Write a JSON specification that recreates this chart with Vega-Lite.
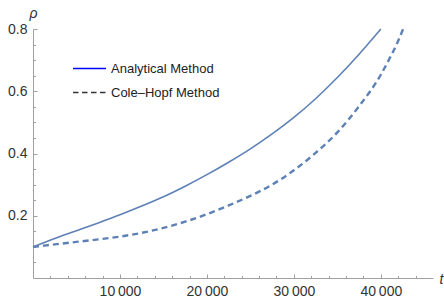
{
  "$schema": "https://vega.github.io/schema/vega-lite/v6.json",
  "autosize": "none",
  "width": 400,
  "height": 249,
  "padding": {"left": 33, "top": 29, "right": 11, "bottom": 20},
  "background": "white",
  "config": {"view": {"stroke": null}, "font": "Liberation Sans"},
  "data": {"values": [
    {"t": 0, "rho": 0.100, "method": "Analytical Method"},
    {"t": 2500, "rho": 0.127, "method": "Analytical Method"},
    {"t": 5000, "rho": 0.152, "method": "Analytical Method"},
    {"t": 7500, "rho": 0.177, "method": "Analytical Method"},
    {"t": 10000, "rho": 0.203, "method": "Analytical Method"},
    {"t": 12500, "rho": 0.231, "method": "Analytical Method"},
    {"t": 15000, "rho": 0.261, "method": "Analytical Method"},
    {"t": 17500, "rho": 0.295, "method": "Analytical Method"},
    {"t": 20000, "rho": 0.332, "method": "Analytical Method"},
    {"t": 22500, "rho": 0.372, "method": "Analytical Method"},
    {"t": 25000, "rho": 0.415, "method": "Analytical Method"},
    {"t": 27500, "rho": 0.463, "method": "Analytical Method"},
    {"t": 30000, "rho": 0.516, "method": "Analytical Method"},
    {"t": 32500, "rho": 0.576, "method": "Analytical Method"},
    {"t": 35000, "rho": 0.644, "method": "Analytical Method"},
    {"t": 37500, "rho": 0.719, "method": "Analytical Method"},
    {"t": 40000, "rho": 0.800, "method": "Analytical Method"},
    {"t": 0, "rho": 0.100, "method": "Cole–Hopf Method"},
    {"t": 2500, "rho": 0.108, "method": "Cole–Hopf Method"},
    {"t": 5000, "rho": 0.116, "method": "Cole–Hopf Method"},
    {"t": 7500, "rho": 0.124, "method": "Cole–Hopf Method"},
    {"t": 10000, "rho": 0.133, "method": "Cole–Hopf Method"},
    {"t": 12500, "rho": 0.145, "method": "Cole–Hopf Method"},
    {"t": 15000, "rho": 0.161, "method": "Cole–Hopf Method"},
    {"t": 17500, "rho": 0.181, "method": "Cole–Hopf Method"},
    {"t": 20000, "rho": 0.205, "method": "Cole–Hopf Method"},
    {"t": 22500, "rho": 0.233, "method": "Cole–Hopf Method"},
    {"t": 25000, "rho": 0.264, "method": "Cole–Hopf Method"},
    {"t": 27500, "rho": 0.300, "method": "Cole–Hopf Method"},
    {"t": 30000, "rho": 0.346, "method": "Cole–Hopf Method"},
    {"t": 32500, "rho": 0.402, "method": "Cole–Hopf Method"},
    {"t": 35000, "rho": 0.468, "method": "Cole–Hopf Method"},
    {"t": 37500, "rho": 0.552, "method": "Cole–Hopf Method"},
    {"t": 40000, "rho": 0.653, "method": "Cole–Hopf Method"},
    {"t": 41000, "rho": 0.705, "method": "Cole–Hopf Method"},
    {"t": 42000, "rho": 0.762, "method": "Cole–Hopf Method"},
    {"t": 42560, "rho": 0.800, "method": "Cole–Hopf Method"}
  ]},
  "layer": [
    {
      "transform": [{"filter": "datum.method === 'Analytical Method'"}],
      "mark": {"type": "line", "color": "#5E81B5", "strokeWidth": 1.6, "interpolate": "monotone", "clip": false},
      "encoding": {
        "x": {"field": "t", "type": "quantitative",
          "scale": {"domain": [0, 46000], "nice": false, "zero": false},
          "axis": {"values": [10000, 20000, 30000, 40000], "grid": false,
            "domainColor": "#A0A0A0", "tickColor": "#A0A0A0", "tickSize": -4,
            "labelPadding": 10, "labelFontSize": 14, "labelColor": "#333333",
            "labelFont": "Liberation Sans",
            "labelExpr": "replace(format(datum.value, ',d'), ',', '\u2009')",
            "title": "t", "titleFontStyle": "italic", "titleFontWeight": "normal",
            "titleFontSize": 14, "titleColor": "#333333", "titleFont": "Liberation Sans",
            "titleAnchor": null, "titleAlign": "left", "titleBaseline": "alphabetic",
            "titleX": 406, "titleY": 5}},
        "y": {"field": "rho", "type": "quantitative",
          "scale": {"domain": [0, 0.8], "nice": false, "zero": false},
          "axis": {"values": [0.2, 0.4, 0.6, 0.8], "grid": false, "format": ".1f",
            "domainColor": "#A0A0A0", "tickColor": "#A0A0A0", "tickSize": -4,
            "labelPadding": 10, "labelFontSize": 14, "labelColor": "#333333",
            "labelFont": "Liberation Sans",
            "title": "ρ", "titleAngle": 0, "titleFontStyle": "italic", "titleFontWeight": "normal",
            "titleFontSize": 14, "titleColor": "#333333", "titleFont": "Liberation Sans",
            "titleAnchor": null, "titleAlign": "left", "titleBaseline": "alphabetic",
            "titleX": -4, "titleY": -12}}
      }
    },
    {
      "transform": [{"filter": "datum.method === 'Cole–Hopf Method'"}],
      "mark": {"type": "line", "color": "#5E81B5", "strokeWidth": 2.4, "strokeDash": [6, 4], "interpolate": "monotone", "clip": false},
      "encoding": {
        "x": {"field": "t", "type": "quantitative", "axis": null},
        "y": {"field": "rho", "type": "quantitative", "axis": null}
      }
    },
    {
      "mark": {"type": "line", "opacity": 0, "strokeWidth": 1.6},
      "encoding": {
        "x": {"field": "t", "type": "quantitative",
          "axis": {"orient": "bottom", "values": [2000, 4000, 6000, 8000, 12000, 14000, 16000, 18000, 22000, 24000, 26000, 28000, 32000, 34000, 36000, 38000, 42000, 44000],
            "labels": false, "domain": false, "grid": false, "tickColor": "#A0A0A0", "tickSize": -2.5, "title": null}},
        "y": {"field": "rho", "type": "quantitative",
          "axis": {"orient": "left", "values": [0.05, 0.1, 0.15, 0.25, 0.3, 0.35, 0.45, 0.5, 0.55, 0.65, 0.7, 0.75],
            "labels": false, "domain": false, "grid": false, "tickColor": "#A0A0A0", "tickSize": -2.5, "title": null}},
        "color": {"field": "method", "type": "nominal",
          "scale": {"domain": ["Analytical Method", "Cole–Hopf Method"], "range": ["#0000FF", "#333333"]},
          "legend": {"title": null, "orient": "none", "legendX": 47, "legendY": 30,
            "symbolType": "M-2,0H2", "symbolSize": 272, "symbolStrokeWidth": 1.6, "symbolOpacity": 1,
            "labelFontSize": 13, "labelFont": "Liberation Sans", "labelColor": "#222222",
            "labelOffset": 12, "rowPadding": 7}},
        "strokeDash": {"field": "method", "type": "nominal",
          "scale": {"domain": ["Analytical Method", "Cole–Hopf Method"], "range": [[1, 0], [5.5, 3.5]]}}
      }
    }
  ],
  "resolve": {"axis": {"x": "independent", "y": "independent"}}
}
